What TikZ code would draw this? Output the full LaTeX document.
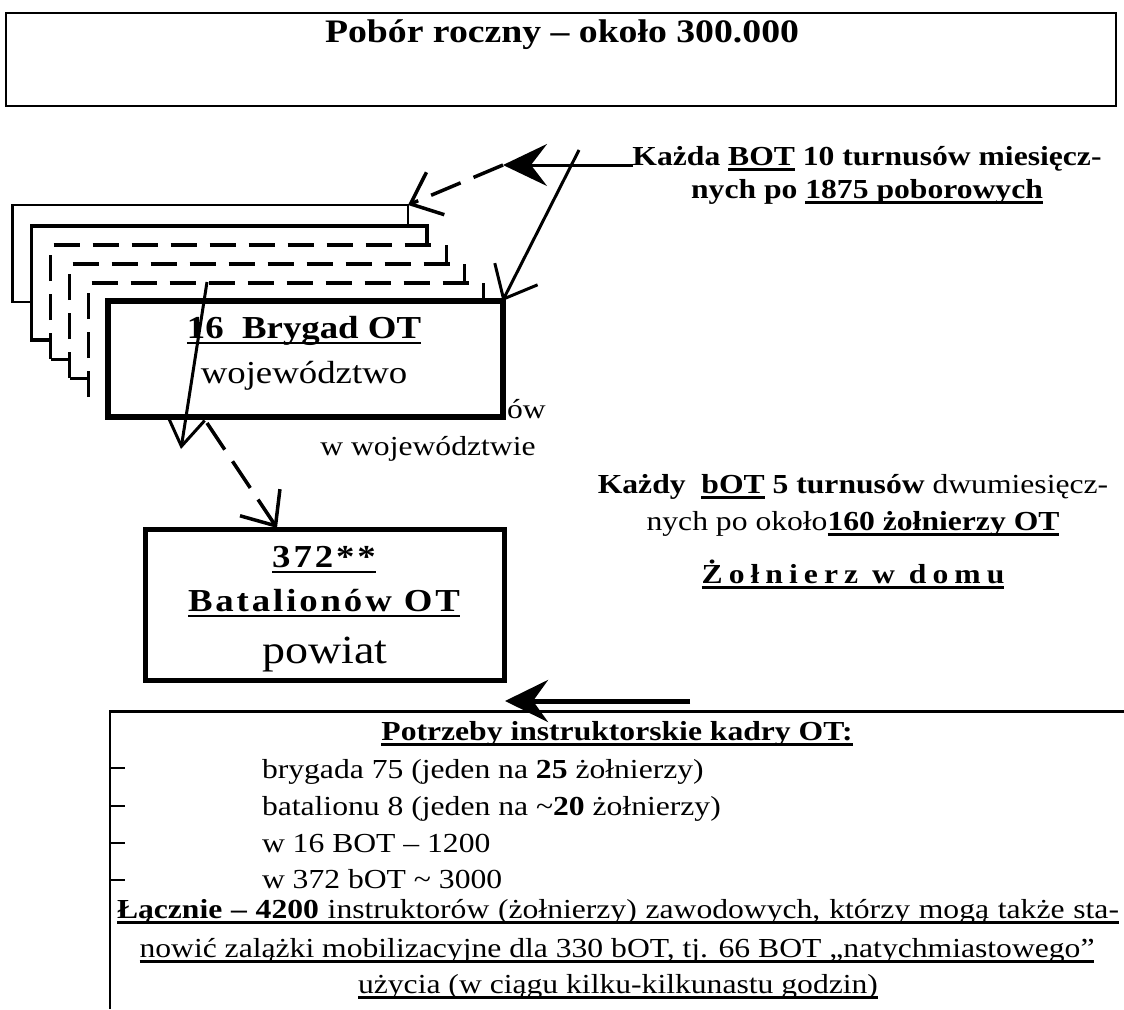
\documentclass[tikz,border=0pt]{standalone}
\usepackage{fontspec}
\setmainfont{Liberation Serif}[FakeStretch=1.15]
\newfontfamily\lsfont{Liberation Serif}[FakeStretch=1.15,LetterSpace=9]
\newfontfamily\lsbigfont{Liberation Serif}[FakeStretch=1.15,LetterSpace=22]
\usetikzlibrary{arrows.meta}
\newsavebox\ulbx
\newcommand\ulin[1]{\sbox\ulbx{#1}\rlap{\rule[-0.2em]{\wd\ulbx}{0.09em}}\usebox\ulbx}
\newcommand\fsT{\fontsize{32.8pt}{38pt}\selectfont}
\newcommand\fsA{\fontsize{32pt}{38pt}\selectfont}
\newcommand\fsB{\fontsize{27.5pt}{33pt}\selectfont}
\newcommand\fsC{\fontsize{40pt}{46pt}\selectfont}
\begin{document}
\begin{tikzpicture}[x=1pt,y=-1pt,line cap=butt,line join=miter,
  txt/.style={inner sep=0pt,outer sep=0pt,anchor=base},
  boxln/.style={draw,inner sep=0pt,outer sep=0pt},
  lay1/.style={line width=2.8pt},
  lay2/.style={line width=3.8pt},
  layd/.style={line width=3.8pt,dash pattern=on 26pt off 13pt},
  stub/.style={line width=3pt},
  barb/.style={line width=3pt},
  dbarb/.style={line width=3.5pt,dash pattern=on 32pt off 14pt}]
\useasboundingbox (0,0) rectangle (1124,1009);
\fill[white] (0,0) rectangle (1124,1009);

% top box
\node[boxln,line width=2.6pt,minimum width=1110pt,minimum height=93pt] (topbox) at (561,59.5) {};
\node[txt] (title) at (562,42) {\fsT\bfseries Pobór roczny – około 300.000};

% stacked layers
\draw[lay1] (31.5,302) -- (12.5,302) -- (12.5,205) -- (408,205) -- (408,226);
\draw[lay2] (50.5,340) -- (31.5,340) -- (31.5,226) -- (427,226) -- (427,245);
\draw[layd] (50.5,359) -- (50.5,245) -- (439,245);
\draw[stub] (50.5,359) -- (69.5,359);
\draw[stub] (446,245) -- (446,264);
\draw[layd] (69.5,378) -- (69.5,264) -- (457,264);
\draw[stub] (69.5,378) -- (88.5,378);
\draw[stub] (464,264) -- (464,283);
\draw[layd] (88.5,397) -- (88.5,283) -- (476,283);
\draw[stub] (483,283) -- (483,301);
\coordinate (l1tr) at (408,205);
\coordinate (l5pt) at (207,282);

% front box
\node[boxln,line width=6pt,minimum width=395pt,minimum height=116pt] (front) at (305,359) {};
\node[txt] (fb1) at (304,338) {\fsA\bfseries\ulin{16\ \ Brygad OT}};
\node[txt] (fb2) at (304,383) {\fsA województwo};
\node[txt,anchor=base west] (ow) at (507,418) {\fsB ów};
\node[txt] (wwoj) at (428,455) {\fsB w województwie};

% battalion box
\node[boxln,line width=5pt,minimum width=359pt,minimum height=151pt] (bat) at (324.5,604.5) {};
\node[txt] (b1) at (324,567) {\fsA\lsfont\bfseries\ulin{372**}};
\node[txt] (b2) at (324,611) {\fsA\lsfont\bfseries\ulin{Batalionów OT}};
\node[txt] (b3) at (325,663) {\fsC powiat};

% right texts
\node[txt] (k1) at (867,165) {\fsB\bfseries Każda \ulin{BOT} 10 turnusów miesięcz-};
\node[txt] (k2) at (867,198) {\fsB\bfseries nych po \ulin{1875 poborowych}};
\node[txt] (d1) at (853,493) {\fsB\textbf{Każdy\ \ \ulin{bOT} 5 turnusów} dwumiesięcz-};
\node[txt] (d2) at (853,530) {\fsB nych po około\textbf{\ulin{160 żołnierzy OT}}};
\node[txt] (d3) at (853,583) {\fsB\lsbigfont\bfseries\ulin{Żołnierz w domu}};

% bottom box
\coordinate (bbtl) at (110,711.5);
\coordinate (bbbl) at (110,1009);
\coordinate (bbtr) at (1124,711.5);
\draw[line width=2.6pt] (bbbl) -- (bbtl) -- (bbtr);
\foreach \yy in {768,806,843,880} \draw[line width=2pt] (110,\yy) -- (125,\yy);
\node[txt] (p0) at (617,740) {\fsB\bfseries\ulin{Potrzeby instruktorskie kadry OT:}};
\node[txt,anchor=base west] (p1) at (262,778) {\fsB brygada 75 (jeden na \textbf{25} żołnierzy)};
\node[txt,anchor=base west] (p2) at (262,815) {\fsB batalionu 8 (jeden na \textasciitilde\textbf{20} żołnierzy)};
\node[txt,anchor=base west] (p3) at (262,852) {\fsB w 16 BOT – 1200};
\node[txt,anchor=base west] (p4) at (262,888) {\fsB w 372 bOT \textasciitilde\ 3000};
\node[txt] (p5) at (618,918) {\fsB\ulin{\makebox[1002pt][s]{\textbf{Łącznie – 4200} instruktorów (żołnierzy) zawodowych, którzy mogą także sta-}}};
\node[txt] (p6) at (617,957) {\fsB\ulin{nowić zalążki mobilizacyjne dla 330 bOT, tj. 66 BOT „natychmiastowego”}};
\node[txt] (p7) at (618,993) {\fsB\ulin{użycia (w ciągu kilku-kilkunastu godzin)}};

% connectors
\coordinate (kstart) at (633,165);
\coordinate (khead) at (503,165);
\coordinate (dstart) at (579,150);
\coordinate (dropend) at (181,449);
\coordinate (dstart2) at (207,423);
\coordinate (battop) at (277,528);
\coordinate (pstart) at (690,701);
\coordinate (phead) at (505,701);

\draw[dbarb,-{Straight Barb[length=27pt,width=46pt]}] (khead) -- (l1tr);
\draw[line width=3pt,-{Stealth[length=44pt,width=42pt,inset=16pt]}] (kstart) -- (khead);
\draw[barb,-{Straight Barb[length=28pt,width=48pt]}] (dstart) -- (front.north east);
\draw[barb,-{Straight Barb[length=29pt,width=38pt]}] (l5pt) -- (dropend);
\draw[dbarb,-{Straight Barb[length=28pt,width=48pt]}] (dstart2) -- (battop);
\draw[line width=5pt,-{Stealth[length=43pt,width=42pt,inset=15pt]}] (pstart) -- (phead);
\end{tikzpicture}
\end{document}
